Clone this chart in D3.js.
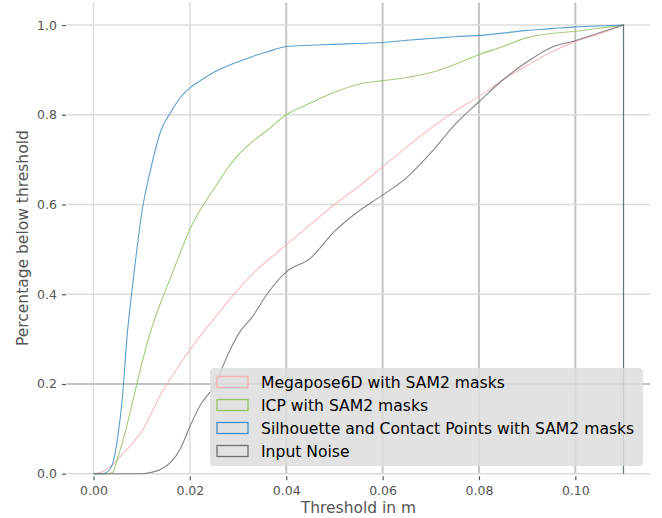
<!DOCTYPE html>
<html>
<head>
<meta charset="utf-8">
<script src="https://cdn.jsdelivr.net/npm/d3@7/dist/d3.min.js"></script>
<style>
  body { margin: 0; background: #fff; }
  svg { display: block; font-family: "DejaVu Sans", sans-serif; }
</style>
</head>
<body>
<div id="chart"></div>
<script>
// thresholds (m) where the cumulative curves were read
var thresholds = [0, 0.002, 0.003, 0.004, 0.005, 0.006, 0.007, 0.008, 0.009, 0.010,
  0.012, 0.014, 0.016, 0.018, 0.020, 0.022, 0.025, 0.028, 0.030, 0.033, 0.036,
  0.040, 0.045, 0.050, 0.055, 0.060, 0.065, 0.070, 0.075, 0.080, 0.085, 0.090,
  0.095, 0.100, 0.105, 0.110];

var megapose = [0, 0.005, 0.012, 0.02, 0.031, 0.043, 0.055, 0.067, 0.08, 0.094,
  0.135, 0.178, 0.212, 0.245, 0.276, 0.305, 0.345, 0.385, 0.41, 0.445, 0.474,
  0.51, 0.555, 0.60, 0.64, 0.684, 0.728, 0.77, 0.808, 0.841, 0.878, 0.91,
  0.94, 0.963, 0.98, 1.0];
var icp = [0, 0, 0, 0.003, 0.035, 0.07, 0.11, 0.155, 0.2, 0.245,
  0.322, 0.383, 0.437, 0.492, 0.545, 0.585, 0.635, 0.683, 0.71, 0.74, 0.765,
  0.80, 0.826, 0.85, 0.868, 0.876, 0.883, 0.894, 0.912, 0.934, 0.952, 0.972,
  0.981, 0.986, 0.993, 1.0];
var silhouette = [0, 0, 0.005, 0.023, 0.08, 0.17, 0.31, 0.41, 0.50, 0.58,
  0.685, 0.765, 0.805, 0.838, 0.86, 0.875, 0.895, 0.91, 0.918, 0.93, 0.94,
  0.952, 0.955, 0.957, 0.959, 0.961, 0.966, 0.970, 0.974, 0.977, 0.982, 0.988,
  0.992, 0.996, 0.998, 1.0];
var noise = [0, 0, 0, 0, 0, 0, 0, 0, 0, 0,
  0.003, 0.01, 0.025, 0.055, 0.105, 0.15, 0.195, 0.268, 0.31, 0.35, 0.40,
  0.45, 0.48, 0.54, 0.585, 0.621, 0.66, 0.715, 0.778, 0.829, 0.878, 0.918,
  0.95, 0.965, 0.983, 1.0];

var seriesNames = ["Megapose6D with SAM2 masks", "ICP with SAM2 masks",
  "Silhouette and Contact Points with SAM2 masks", "Input Noise"];
var seriesValues = [megapose, icp, silhouette, noise];
var seriesColors = ["#f8b1b1", "#93c462", "#3f8fc6", "#707070"];

var xTicks = [0, 0.02, 0.04, 0.06, 0.08, 0.10];
var yTicks = [0, 0.2, 0.4, 0.6, 0.8, 1.0];

function init() {
  var w = 662, h = 518;
  var left = 67, right = 650, top = 2.6, bottom = 473.7;

  var x = d3.scaleLinear().domain([-0.0055, 0.1155]).range([left, right]);
  var y = d3.scaleLinear().domain([0, 1.05]).range([bottom, top]);

  var svg = d3.select("#chart").append("svg")
    .attr("width", w).attr("height", h);

  // grid
  var heavyX = [0.04, 0.06, 0.08, 0.10];
  svg.append("g").selectAll("line").data(xTicks).enter().append("line")
    .attr("x1", function(d) { return x(d); }).attr("x2", function(d) { return x(d); })
    .attr("y1", top).attr("y2", bottom)
    .attr("stroke", function(d) { return heavyX.indexOf(d) >= 0 ? "#c4c4c4" : "#dcdcdc"; })
    .attr("stroke-width", function(d) { return heavyX.indexOf(d) >= 0 ? 2 : 1.4; });
  svg.append("g").selectAll("line").data(yTicks).enter().append("line")
    .attr("x1", left).attr("x2", right)
    .attr("y1", function(d) { return y(d); }).attr("y2", function(d) { return y(d); })
    .attr("stroke", function(d) { return d === 0.2 ? "#c4c4c4" : "#dcdcdc"; })
    .attr("stroke-width", function(d) { return d === 0.2 ? 2 : 1.4; });

  // axes
  var xAxis = d3.axisBottom(x).tickValues(xTicks).tickFormat(d3.format(".2f"))
    .tickSize(4).tickPadding(6);
  var yAxis = d3.axisLeft(y).tickValues(yTicks).tickFormat(d3.format(".1f"))
    .tickSize(4).tickPadding(5);

  var gx = svg.append("g").attr("transform", "translate(0," + (bottom + 2.5) + ")").call(xAxis);
  var gy = svg.append("g").attr("transform", "translate(" + (left - 1) + ",0)").call(yAxis);
  [gx, gy].forEach(function(g) {
    g.select(".domain").remove();
    g.selectAll(".tick line").attr("stroke", "#555").attr("stroke-width", 1.2);
    g.selectAll(".tick text").attr("fill", "#555")
      .style("font-family", "DejaVu Sans").style("font-size", "12.5px");
  });

  svg.append("text")
    .attr("x", (left + right) / 2).attr("y", 513)
    .attr("text-anchor", "middle").attr("fill", "#555")
    .style("font-size", "15.5px").text("Threshold in m");
  svg.append("text")
    .attr("transform", "translate(28," + ((top + bottom) / 2) + ") rotate(-90)")
    .attr("text-anchor", "middle").attr("fill", "#555")
    .style("font-size", "15.5px").text("Percentage below threshold");

  // cumulative step curves
  var line = d3.line()
    .x(function(d) { return x(d[0]); })
    .y(function(d) { return y(d[1]); })
    .curve(d3.curveMonotoneX);

  svg.append("g").selectAll("path").data(seriesValues).enter().append("path")
    .attr("d", function(vals) {
      var pts = thresholds.map(function(t, i) { return [t, vals[i]]; });
      return line(pts) + "V" + y(0);
    })
    .attr("fill", "none")
    .attr("stroke", function(d, i) { return seriesColors[i]; })
    .attr("stroke-width", 1.1)
    .attr("stroke-opacity", 0.85);

  // legend
  var lg = svg.append("g").attr("transform", "translate(210,368)");
  lg.append("rect")
    .attr("width", 433).attr("height", 98).attr("rx", 4)
    .attr("fill", "#dcdddc").attr("fill-opacity", 0.85);
  var items = lg.selectAll("g.item").data(seriesNames).enter().append("g")
    .attr("class", "item")
    .attr("transform", function(d, i) { return "translate(0," + (14 + i * 23) + ")"; });
  items.append("rect")
    .attr("x", 7).attr("y", -5.5).attr("width", 31).attr("height", 11)
    .attr("fill", "none")
    .attr("stroke", function(d, i) { return seriesColors[i]; })
    .attr("stroke-width", 1.3);
  items.append("text")
    .attr("x", 51).attr("y", 5.5)
    .attr("fill", "#000")
    .style("font-size", "15.6px")
    .text(function(d) { return d; });
}

window.onload = init;
</script>
</body>
</html>
